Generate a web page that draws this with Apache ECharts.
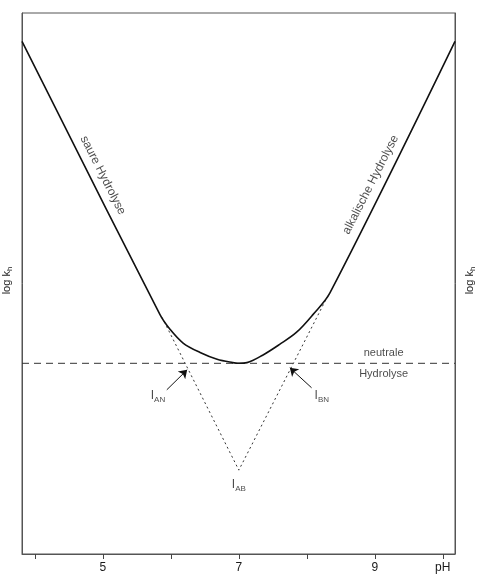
<!DOCTYPE html>
<html>
<head>
<meta charset="utf-8">
<script src="https://cdn.jsdelivr.net/npm/echarts@6/dist/echarts.min.js"></script>
<style>
  html, body { margin: 0; padding: 0; background: #fff; }
  #chart { width: 479px; height: 577px; }
</style>
</head>
<body>
<div id="chart"></div>
<script>
// Gesamtkurve (log kh gegen pH)
const curvePH = [3.81, 5.84, 5.99, 6.18, 6.43, 6.68, 6.91, 7.0, 7.12, 7.35, 7.60, 7.85, 8.09, 8.34, 10.18];
const curveLogK = [2.38, 0.36, 0.25, 0.15, 0.08, 0.03, 0.005, 0.0, 0.005, 0.06, 0.14, 0.23, 0.36, 0.52, 2.38];

// Verlängerung der sauren / alkalischen Geraden (punktiert)
const dottedPH = [5.87, 7.0, 8.31];
const dottedLogK = [0.34, -0.79, 0.50];

// neutrale Hydrolyse (gestrichelt)
const neutralPH = [3.81, 10.18];
const neutralLogK = [0, 0];

// Pfeile auf die Schnittpunkte
const arrowAN = [[5.94, -0.196], [6.24, -0.048]];
const arrowBN = [[8.07, -0.181], [7.75, -0.033]];

// Beschriftungen der Schnittpunkte
const pointNames = ['AN', 'BN', 'AB'];
const pointPH = [5.81, 8.22, 7.0];
const pointLogK = [-0.24, -0.24, -0.9];

// Achsen
const tickValues = [4, 5, 6, 7, 8, 9, 10];
const labelValues = [5, 7, 9, 10];
const labelTexts = ['5', '7', '9', 'pH'];

const FONT = 'Liberation Sans, Arial, sans-serif';
const INK = '#1a1a1a';

const chart = echarts.init(document.getElementById('chart'));

const zip = (xs, ys) => xs.map((x, i) => [x, ys[i]]);

const yName = {
  name: '{a|log k}{b|h}',
  nameLocation: 'middle',
  nameRotate: 90,
  nameGap: 8,
  nameTextStyle: {
    padding: [0, 0, 0, 6],
    rich: {
      a: { fontFamily: FONT, fontSize: 11, color: INK, lineHeight: 14 },
      b: { fontFamily: FONT, fontSize: 8, color: INK, verticalAlign: 'bottom', lineHeight: 14, padding: [3, 0, 0, 0] },
    },
  },
};

const option = {
  animation: false,
  backgroundColor: '#fff',
  grid: {
    left: 22,
    right: 24,
    top: 13,
    bottom: 23,
    outerBoundsMode: 'none',
    containLabel: false,
    show: true,
    borderColor: '#555',
    borderWidth: 1,
  },
  xAxis: {
    type: 'value',
    min: 3.81,
    max: 10.18,
    splitLine: { show: false },
    axisLine: { onZero: false, lineStyle: { color: '#555', width: 1 } },
    axisTick: {
      show: true,
      length: 5,
      customValues: tickValues,
      lineStyle: { color: '#444', width: 1 },
    },
    axisLabel: {
      customValues: labelValues,
      margin: 8,
      fontFamily: FONT,
      fontSize: 12,
      color: INK,
      formatter: (v) => labelTexts[labelValues.indexOf(v)] ?? '',
    },
  },
  yAxis: [
    {
      type: 'value',
      min: -1.41,
      max: 2.59,
      position: 'left',
      splitLine: { show: false },
      axisLine: { show: true, onZero: false, lineStyle: { color: '#555' } },
      axisTick: { show: false },
      axisLabel: { show: false },
      ...yName,
    },
    {
      type: 'value',
      min: -1.41,
      max: 2.59,
      position: 'right',
      splitLine: { show: false },
      axisLine: { show: true, onZero: false, lineStyle: { color: '#555' } },
      axisTick: { show: false },
      axisLabel: { show: false },
      ...yName,
    },
  ],
  series: [
    {
      name: 'neutral',
      type: 'line',
      data: zip(neutralPH, neutralLogK),
      symbol: 'none',
      lineStyle: { color: '#333', width: 1, type: [7, 5] },
      z: 2,
    },
    {
      name: 'extrapoliert',
      type: 'line',
      data: zip(dottedPH, dottedLogK),
      symbol: 'none',
      lineStyle: { color: '#333', width: 1, type: [2, 3] },
      z: 2,
    },
    {
      name: 'gesamt',
      type: 'line',
      data: zip(curvePH, curveLogK),
      symbol: 'none',
      smooth: 0.35,
      lineStyle: { color: '#111', width: 1.6 },
      z: 3,
    },
    {
      name: 'pfeile',
      type: 'lines',
      coordinateSystem: 'cartesian2d',
      symbol: ['none', 'arrow'],
      symbolSize: [0, 8],
      lineStyle: { color: '#111', width: 1, opacity: 1 },
      data: [{ coords: arrowAN }, { coords: arrowBN }],
      z: 4,
    },
    {
      name: 'punkte',
      type: 'scatter',
      symbolSize: 0,
      data: pointNames.map((n, i) => ({ value: [pointPH[i], pointLogK[i]], name: n })),
      label: {
        show: true,
        position: 'inside',
        formatter: (p) => '{i|I}{s|' + p.name + '}',
        rich: {
          i: { fontFamily: FONT, fontSize: 12, color: INK, lineHeight: 16 },
          s: { fontFamily: FONT, fontSize: 8, color: INK, verticalAlign: 'bottom', lineHeight: 16, padding: [5, 0, 0, 0] },
        },
      },
      z: 5,
    },
    {
      name: 'texte',
      type: 'scatter',
      symbolSize: 0,
      data: [
        { value: [5.0, 1.39], name: 'saure Hydrolyse', rot: -63 },
        { value: [8.94, 1.32], name: 'alkalische Hydrolyse', rot: 63 },
        { value: [9.13, 0.08], name: 'neutrale', rot: 0 },
        { value: [9.13, -0.08], name: 'Hydrolyse', rot: 0 },
      ].map((d) => ({
        value: d.value,
        name: d.name,
        label: { rotate: d.rot, fontSize: d.rot === 0 ? 11 : 12 },
      })),
      label: {
        show: true,
        position: 'inside',
        formatter: '{b}',
        fontFamily: FONT,
        color: INK,
      },
      z: 5,
    },
  ],
};

chart.setOption(option);
</script>
</body>
</html>
